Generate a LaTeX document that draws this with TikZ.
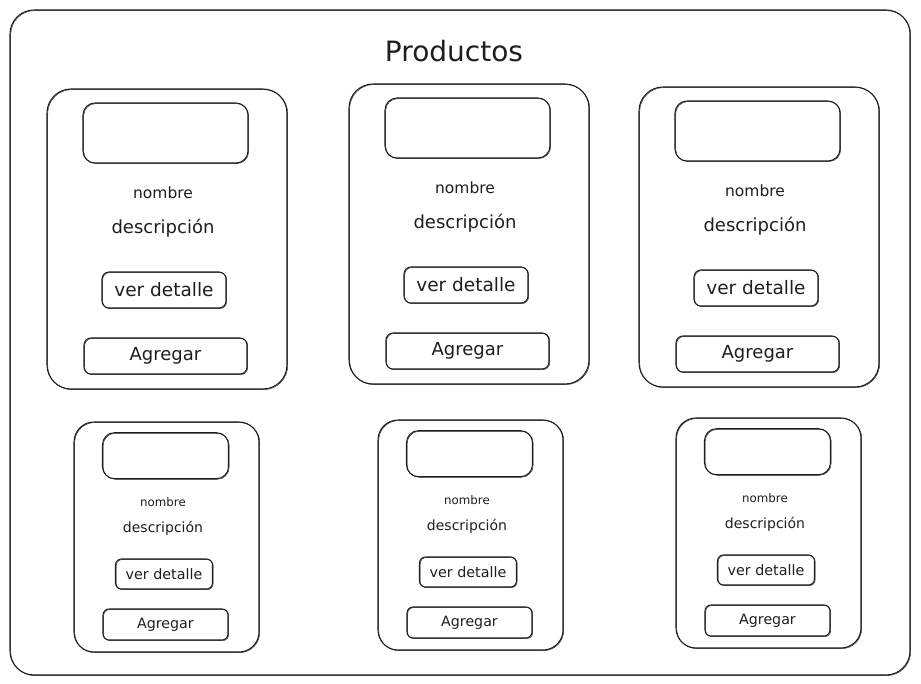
\documentclass[tikz,border=0pt]{standalone}
\usepackage{fontspec}
\setmainfont{DejaVu Sans}
\definecolor{inkc}{HTML}{1E1E1E}
\tikzset{
  ink/.style={draw=inkc, line width=1.05pt, line join=round,
    preaction={draw=inkc, line width=0.45pt, transform canvas={xshift=0.7pt, yshift=-0.6pt}}},
  framebox/.style={ink, rectangle, rounded corners=24pt, inner sep=0pt},
  cardbox/.style={ink, rectangle, rounded corners=24pt, inner sep=0pt},
  smallcard/.style={ink, rectangle, rounded corners=20pt, inner sep=0pt},
  imgbox/.style={ink, rectangle, rounded corners=12pt, inner sep=0pt},
  btnbox/.style={ink, rectangle, rounded corners=7pt, inner sep=0pt, text=inkc},
  lbl/.style={inner sep=0pt, text=inkc},
}
\newcommand\topcard[2]{%
  \begin{scope}[shift={(#2)}]
    \node[cardbox, minimum width=240pt, minimum height=300pt] (#1card) at (120,150) {};
    \node[imgbox, minimum width=165pt, minimum height=60pt] (#1img) at (118.5,44) {};
    \node[lbl, font=\fontsize{15.5}{18}\selectfont] (#1nom) at (116,104) {nombre};
    \node[lbl, font=\fontsize{18}{21}\selectfont] (#1desc) at (116,139) {descripción};
    \node[btnbox, minimum width=124pt, minimum height=36pt, font=\fontsize{18.5}{21}\selectfont] (#1ver) at (117,201) {ver detalle};
    \node[btnbox, minimum width=163pt, minimum height=36pt, font=\fontsize{18}{21}\selectfont] (#1add) at (118.5,267) {Agregar};
  \end{scope}}
\newcommand\botcard[2]{%
  \begin{scope}[shift={(#2)}]
    \node[smallcard, minimum width=185pt, minimum height=230pt] (#1card) at (92.5,115) {};
    \node[imgbox, minimum width=126pt, minimum height=46pt] (#1img) at (91.5,33.7) {};
    \node[lbl, font=\fontsize{11.8}{14}\selectfont] (#1nom) at (89,80) {nombre};
    \node[lbl, font=\fontsize{14}{16}\selectfont] (#1desc) at (89,106) {descripción};
    \node[btnbox, rounded corners=6pt, minimum width=97pt, minimum height=30pt, font=\fontsize{14.3}{16}\selectfont] (#1ver) at (90,152) {ver detalle};
    \node[btnbox, rounded corners=6pt, minimum width=125pt, minimum height=31pt, font=\fontsize{14.2}{16}\selectfont] (#1add) at (91.5,202.5) {Agregar};
  \end{scope}}
\begin{document}
\begin{tikzpicture}[x=1pt, y=-1pt]
  \useasboundingbox (0,0) rectangle (921,684);
  \fill[white] (0,0) rectangle (921,684);
  \node[framebox, minimum width=900pt, minimum height=665pt] (frame) at (460,342.5) {};
  \node[lbl, font=\fontsize{28}{32}\selectfont] (title) at (454,51) {Productos};
  \topcard{tl}{47,89}
  \topcard{tm}{349,84}
  \topcard{tr}{639,87}
  \botcard{bl}{74,422}
  \botcard{bm}{378,420}
  \botcard{br}{676,418}
\end{tikzpicture}
\end{document}
